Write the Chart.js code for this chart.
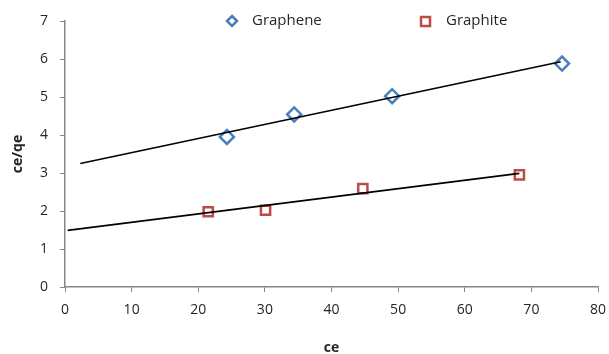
<!DOCTYPE html>
<html>
<head>
<meta charset="utf-8">
<script src="https://cdn.jsdelivr.net/npm/chart.js@4.4.0/dist/chart.umd.min.js"></script>
<style>
  html, body { margin: 0; padding: 0; background: #fff; }
  #wrap { width: 609px; height: 354px; position: relative; }
</style>
</head>
<body>
<div id="wrap"><canvas id="chart"></canvas></div>
<script>
// data
let grapheneX = [24.3, 34.4, 49.1, 74.6];
let grapheneY = [3.95, 4.54, 5.02, 5.88];
let graphiteX = [21.5, 30.1, 44.7, 68.2];
let graphiteY = [1.98, 2.02, 2.59, 2.95];
// trendline end points
let grapheneFitX = [2.3, 74.4];
let grapheneFitY = [3.25, 5.93];
let graphiteFitX = [0.4, 68.2];
let graphiteFitY = [1.49, 2.99];
let xTicks = [0, 10, 20, 30, 40, 50, 60, 70, 80];
let yTicks = [0, 1, 2, 3, 4, 5, 6, 7];

function pts(xs, ys) {
  return xs.map((x, i) => ({ x: x, y: ys[i] }));
}

let blue = '#4a7ebb';
let red = '#be4b48';
let axisGrey = '#868686';
let fontFam = "'Open Sans', 'Noto Sans', sans-serif";

// Legend drawn inside the plot near the top
let legendPlugin = {
  id: 'topLegend',
  afterDraw(chart) {
    let ctx = chart.ctx;
    ctx.save();
    ctx.font = '15px ' + fontFam;
    ctx.fillStyle = '#262626';
    ctx.textBaseline = 'middle';
    ctx.lineWidth = 2.5;
    // diamond
    ctx.strokeStyle = blue;
    ctx.beginPath();
    ctx.moveTo(232, 16); ctx.lineTo(237, 21); ctx.lineTo(232, 26); ctx.lineTo(227, 21); ctx.closePath();
    ctx.stroke();
    ctx.fillText('Graphene', 252, 21);
    // square
    ctx.strokeStyle = red;
    ctx.strokeRect(421, 17, 9, 9);
    ctx.fillText('Graphite', 446, 21);
    ctx.restore();
  }
};

new Chart(document.getElementById('chart'), {
  type: 'scatter',
  data: {
    datasets: [
      {
        label: 'Graphene',
        data: pts(grapheneX, grapheneY),
        pointStyle: 'rectRot',
        pointRadius: 7,
        pointBorderWidth: 2.5,
        borderColor: blue,
        backgroundColor: 'rgba(255,255,255,0)',
        order: 2
      },
      {
        label: 'Graphite',
        data: pts(graphiteX, graphiteY),
        pointStyle: 'rect',
        pointRadius: 6.5,
        pointBorderWidth: 2.5,
        borderColor: red,
        backgroundColor: 'rgba(255,255,255,0)',
        order: 2
      },
      {
        label: 'Graphene fit',
        data: pts(grapheneFitX, grapheneFitY),
        showLine: true,
        pointRadius: 0,
        borderColor: '#000',
        borderWidth: 1.6,
        order: 1
      },
      {
        label: 'Graphite fit',
        data: pts(graphiteFitX, graphiteFitY),
        showLine: true,
        pointRadius: 0,
        borderColor: '#000',
        borderWidth: 1.6,
        order: 1
      }
    ]
  },
  options: {
    responsive: true,
    maintainAspectRatio: false,
    animation: false,
    layout: { padding: { top: 21, right: 11, left: 0, bottom: 0 } },
    plugins: {
      legend: { display: false },
      tooltip: { enabled: false }
    },
    scales: {
      x: {
        type: 'linear',
        min: 0,
        max: 80,
        afterBuildTicks: (s) => { s.ticks = xTicks.map(v => ({ value: v })); },
        afterFit: (s) => { s.height = 67; s.paddingRight = 0; s.paddingLeft = 0; },
        grid: {
          display: true,
          drawOnChartArea: false,
          drawTicks: true,
          tickLength: 5,
          color: axisGrey,
          lineWidth: 1
        },
        border: { color: axisGrey, width: 1.5 },
        ticks: { color: '#262626', font: { family: fontFam, size: 14 }, padding: 10, maxRotation: 0 },
        title: {
          display: true,
          text: 'ce',
          color: '#262626',
          font: { family: fontFam, size: 14, weight: 'bold', lineHeight: 0.8 },
          padding: { top: 17, bottom: 0 }
        }
      },
      y: {
        type: 'linear',
        min: 0,
        max: 7,
        afterBuildTicks: (s) => { s.ticks = yTicks.map(v => ({ value: v })); },
        afterFit: (s) => { s.width = 65; s.paddingTop = 0; s.paddingBottom = 0; },
        grid: {
          display: true,
          drawOnChartArea: false,
          drawTicks: true,
          tickLength: 5,
          color: axisGrey,
          lineWidth: 1
        },
        border: { color: axisGrey, width: 1.5 },
        ticks: { color: '#262626', font: { family: fontFam, size: 14 }, padding: 12 },
        title: {
          display: true,
          text: 'ce/qe',
          color: '#262626',
          font: { family: fontFam, size: 14, weight: 'bold' },
          padding: { top: 10 }
        }
      }
    }
  },
  plugins: [legendPlugin]
});
</script>
</body>
</html>
